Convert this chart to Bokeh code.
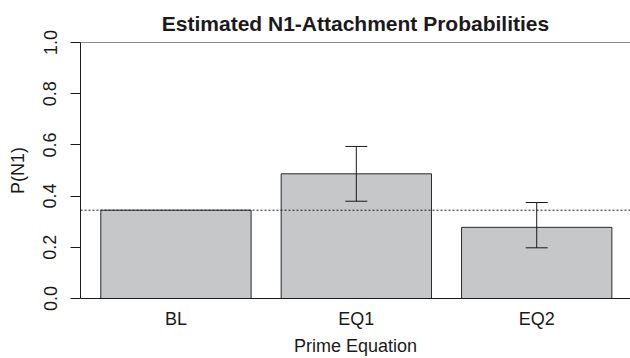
from bokeh.plotting import figure
from bokeh.models import (ColumnDataSource, Range1d, FixedTicker, Span, Whisker,
                          TeeHead, Title)
from bokeh.embed import file_html
from bokeh.resources import INLINE

# ---- data ----
categories = ["BL", "EQ1", "EQ2"]
probabilities = [0.345, 0.487, 0.278]
ci_lower = [None, 0.380, 0.198]
ci_upper = [None, 0.594, 0.375]
baseline = 0.345
y_ticks = [0.0, 0.2, 0.4, 0.6, 0.8, 1.0]
y_tick_labels = ["0.0", "0.2", "0.4", "0.6", "0.8", "1.0"]

# R barplot style positions (width 1, space 0.2)
centers = [0.7 + 1.2 * i for i in range(len(categories))]

FONT = "Liberation Sans"
INK = "#1a1a1a"

p = figure(width=630, height=358, output_backend="svg", toolbar_location=None,
           x_range=Range1d(0.065, 3.724), y_range=Range1d(0, 1),
           min_border_left=80, min_border_right=0, min_border_top=42,
           min_border_bottom=58)
p.outline_line_color = None
p.grid.grid_line_color = None
p.background_fill_color = "white"

p.title = Title(text="Estimated N1-Attachment Probabilities", align="center",
                text_font=FONT, text_font_size="21px", text_font_style="bold",
                text_color=INK, standoff=16)

src = ColumnDataSource(dict(x=centers, top=probabilities, cat=categories))
p.vbar(x="x", top="top", bottom=0, width=1.0, source=src,
       fill_color="#c6c7c9", line_color="#2a2a2a", line_width=1)

ex, el, eu = [], [], []
for c, lo, hi in zip(centers, ci_lower, ci_upper):
    if lo is not None:
        ex.append(c); el.append(lo); eu.append(hi)
esrc = ColumnDataSource(dict(x=ex, lower=el, upper=eu))
p.add_layout(Whisker(base="x", lower="lower", upper="upper", source=esrc,
                     level="overlay", line_color=INK, line_width=1,
                     upper_head=TeeHead(size=22, line_color=INK, line_width=1),
                     lower_head=TeeHead(size=22, line_color=INK, line_width=1)))

p.add_layout(Span(location=baseline, dimension="width", line_color=INK,
                  line_width=1, line_dash="2 2", level="overlay"))
p.add_layout(Span(location=1.0, dimension="width", line_color=INK, line_width=1))

# x axis
xa = p.xaxis[0]
xa.ticker = FixedTicker(ticks=centers)
xa.major_label_overrides = {c: lab for c, lab in zip(centers, categories)}
xa.major_tick_line_color = None
xa.minor_tick_line_color = None
xa.major_tick_out = 0
xa.major_tick_in = 0
xa.major_label_standoff = 10
xa.axis_line_color = INK
xa.major_label_text_font = FONT
xa.major_label_text_font_size = "18px"
xa.major_label_text_color = INK
xa.axis_label = "Prime Equation"
xa.axis_label_text_font = FONT
xa.axis_label_text_font_size = "18px"
xa.axis_label_text_font_style = "normal"
xa.axis_label_text_color = INK
xa.axis_label_standoff = 4

# y axis
ya = p.yaxis[0]
ya.ticker = FixedTicker(ticks=y_ticks)
ya.major_label_overrides = {t: lab for t, lab in zip(y_ticks, y_tick_labels)}
ya.minor_tick_line_color = None
ya.major_tick_out = 10
ya.major_tick_in = 0
ya.major_tick_line_color = INK
ya.axis_line_color = INK
ya.major_label_orientation = "vertical"
ya.major_label_standoff = 14
ya.major_label_text_font = FONT
ya.major_label_text_font_size = "18px"
ya.major_label_text_color = INK
ya.axis_label = "P(N1)"
ya.axis_label_text_font = FONT
ya.axis_label_text_font_size = "18px"
ya.axis_label_text_font_style = "normal"
ya.axis_label_text_color = INK
ya.axis_label_standoff = 13

open("out.html", "w").write(file_html(p, INLINE))
